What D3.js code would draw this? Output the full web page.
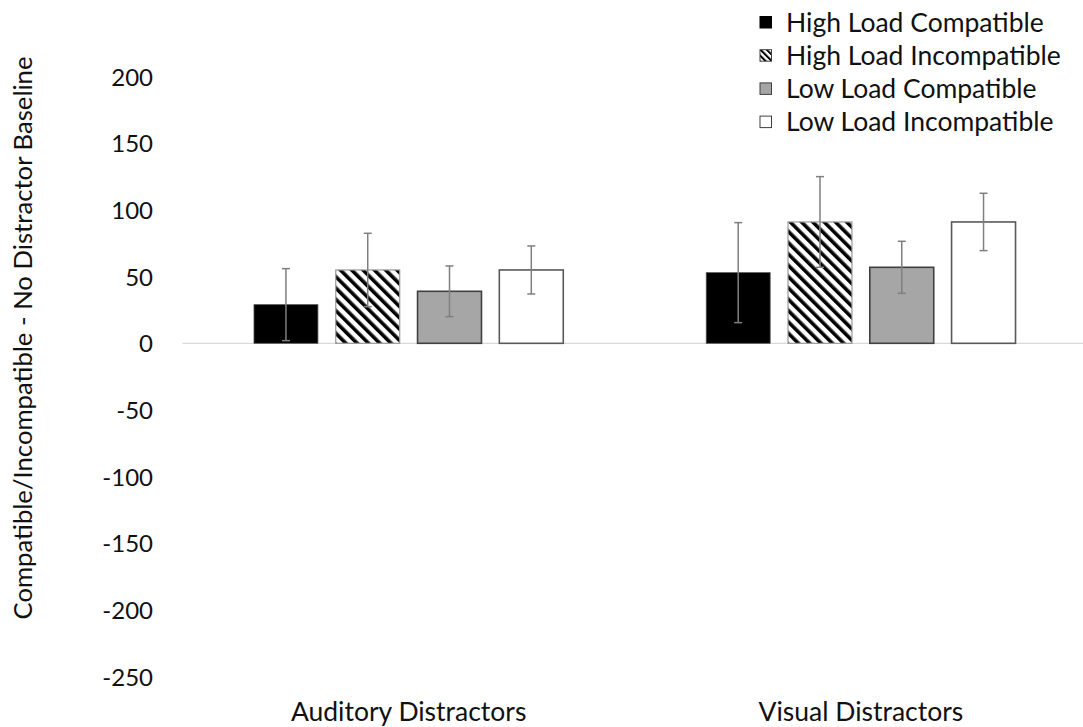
<!DOCTYPE html>
<html>
<head>
<meta charset="utf-8">
<script src="https://cdn.jsdelivr.net/npm/d3@7"></script>
<style>
  html, body { margin: 0; padding: 0; background: #fff; }
  svg { display: block; font-family: Lato, "Open Sans", sans-serif; }
</style>
</head>
<body>
<svg id="chart" width="1083" height="727"></svg>
<script>
// Distractor types along the x axis
const groups = ["Auditory Distractors", "Visual Distractors"];
// Conditions (one bar per condition in each group)
const series = ["High Load Compatible", "High Load Incompatible", "Low Load Compatible", "Low Load Incompatible"];
// Mean differences from the no-distractor baseline (ms)
const highLoadCompatible   = [29, 53];
const highLoadIncompatible = [55, 91];
const lowLoadCompatible    = [39, 57];
const lowLoadIncompatible  = [55, 91];
// Error bar half-widths
const errHighCompatible   = [27, 37.5];
const errHighIncompatible = [27.5, 34];
const errLowCompatible    = [19, 19.5];
const errLowIncompatible  = [18, 21.5];
// Y axis ticks
const yTicks = [200, 150, 100, 50, 0, -50, -100, -150, -200, -250];

const values = [highLoadCompatible, highLoadIncompatible, lowLoadCompatible, lowLoadIncompatible];
const errors = [errHighCompatible, errHighIncompatible, errLowCompatible, errLowIncompatible];

const rows = [];
groups.forEach((g, gi) => {
  series.forEach((s, si) => {
    rows.push({ group: g, series: s, si, value: values[si][gi], err: errors[si][gi] });
  });
});

const svg = d3.select("#chart");
const font = 'Lato, "Open Sans", sans-serif';

// Downward diagonal hatch for the high-load incompatible bars
const defs = svg.append("defs");
const pat = defs.append("pattern")
  .attr("id", "hatch")
  .attr("patternUnits", "userSpaceOnUse")
  .attr("width", 8).attr("height", 8)
  .attr("patternTransform", "rotate(-45)");
pat.append("rect").attr("width", 8).attr("height", 8).attr("fill", "#fff");
pat.append("rect").attr("x", 0).attr("y", 0).attr("width", 3.6).attr("height", 8).attr("fill", "#000");

const legendPat = defs.append("pattern")
  .attr("id", "hatchSmall")
  .attr("patternUnits", "userSpaceOnUse")
  .attr("width", 4.4).attr("height", 4.4)
  .attr("patternTransform", "rotate(-45)");
legendPat.append("rect").attr("width", 4.4).attr("height", 4.4).attr("fill", "#fff");
legendPat.append("rect").attr("width", 2).attr("height", 4.4).attr("fill", "#000");

const fills = ["#000000", "url(#hatch)", "#a6a6a6", "#ffffff"];
const strokes = ["#555555", "#9a9a9a", "#404040", "#595959"];
const strokeW = [0.8, 1.2, 1.6, 1.6];

const x0 = d3.scaleBand().domain(groups).range([182.5, 1087]).paddingInner(0).paddingOuter(0);
const x1 = d3.scaleBand().domain(series).range([0, x0.bandwidth()]).paddingInner(0.218).paddingOuter(0.874);
const y = d3.scaleLinear().domain([-250, 200]).range([676.7, 76.6]);

// Zero line
svg.append("line")
  .attr("x1", 182.5).attr("x2", 1083)
  .attr("y1", y(0)).attr("y2", y(0))
  .attr("stroke", "#d9d9d9").attr("stroke-width", 1.2);

// Y axis labels (no axis line), plain hyphen for negatives
const yAxis = d3.axisLeft(y).tickValues(yTicks).tickSize(0).tickPadding(0)
  .tickFormat(d => String(d));
const yg = svg.append("g").attr("transform", "translate(153,0)").call(yAxis);
yg.select(".domain").remove();
yg.selectAll("text")
  .attr("font-family", font).attr("font-size", 24).attr("fill", "#111")
  .attr("dy", "0.35em");

// Bars
svg.append("g").selectAll("rect")
  .data(rows)
  .join("rect")
  .attr("x", d => x0(d.group) + x1(d.series))
  .attr("width", x1.bandwidth())
  .attr("y", d => y(Math.max(0, d.value)))
  .attr("height", d => Math.abs(y(d.value) - y(0)))
  .attr("fill", d => fills[d.si])
  .attr("stroke", d => strokes[d.si])
  .attr("stroke-width", d => strokeW[d.si]);

// Error bars
const eb = svg.append("g").attr("stroke", "#7f7f7f").attr("stroke-width", 1.5);
rows.forEach(d => {
  const cx = x0(d.group) + x1(d.series) + x1.bandwidth() / 2;
  const top = y(d.value + d.err), bot = y(d.value - d.err);
  eb.append("line").attr("x1", cx).attr("x2", cx).attr("y1", top).attr("y2", bot);
  eb.append("line").attr("x1", cx - 4).attr("x2", cx + 4).attr("y1", top).attr("y2", top);
  eb.append("line").attr("x1", cx - 4).attr("x2", cx + 4).attr("y1", bot).attr("y2", bot);
});

// Category labels
svg.append("g").selectAll("text")
  .data(groups)
  .join("text")
  .attr("x", d => x0(d) + x0.bandwidth() / 2)
  .attr("y", 712)
  .attr("dy", "0.35em")
  .attr("text-anchor", "middle")
  .attr("font-family", font).attr("font-size", 26.5).attr("fill", "#111")
  .text(d => d);

// Y axis title
svg.append("text")
  .attr("transform", "translate(23,338) rotate(-90)")
  .attr("text-anchor", "middle")
  .attr("dy", "0.35em")
  .attr("font-family", font).attr("font-size", 25.7).attr("fill", "#111")
  .text("Compatible/Incompatible - No Distractor Baseline");

// Legend
const legFills = ["#000000", "url(#hatchSmall)", "#a6a6a6", "#ffffff"];
const leg = svg.append("g");
series.forEach((s, i) => {
  const cy = 22.3 + i * 33.2;
  leg.append("rect")
    .attr("x", 760).attr("y", cy - 5.8).attr("width", 11.5).attr("height", 11.5)
    .attr("fill", legFills[i]).attr("stroke", i === 0 ? "#000" : "#404040").attr("stroke-width", 1);
  leg.append("text")
    .attr("x", 786).attr("y", cy).attr("dy", "0.35em")
    .attr("font-family", font).attr("font-size", 26.5).attr("fill", "#111")
    .text(s);
});
</script>
</body>
</html>
